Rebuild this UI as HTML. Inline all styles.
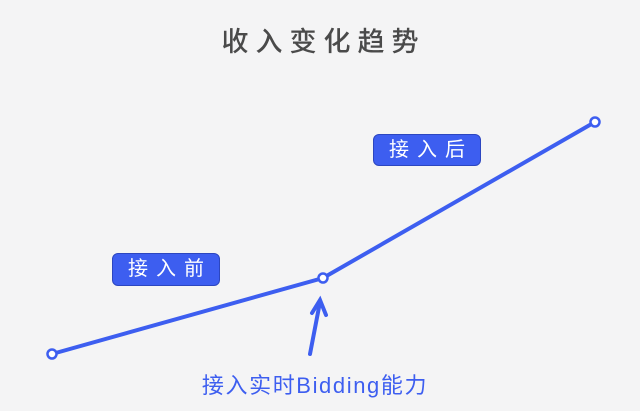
<!DOCTYPE html>
<html><head><meta charset="utf-8"><style>
html,body{margin:0;padding:0;background:#f4f4f5;}
body{width:640px;height:411px;position:relative;overflow:hidden;font-family:"Liberation Sans","Noto Sans CJK SC",sans-serif;}
.t{position:absolute;left:0;width:640px;top:20px;text-align:center;font-size:27px;color:#4a4a4a;letter-spacing:7px;padding-left:7px;box-sizing:border-box;font-weight:500;}
.b{position:absolute;background:#3d5ef0;color:#fff;font-size:20px;text-align:center;border-radius:6px;border:1px solid #2c46c0;box-sizing:border-box;letter-spacing:8px;padding-left:8px;}
.c{position:absolute;left:140px;width:350px;top:368px;text-align:center;font-size:22px;letter-spacing:1.6px;color:#3d5ef0;}
</style></head><body>
<div class="t">收入变化趋势</div>
<svg width="640" height="411" style="position:absolute;left:0;top:0">
<polyline points="52,354 323,278 595,122" fill="none" stroke="#3d5ef0" stroke-width="4"/>
<circle cx="52" cy="354" r="4.5" fill="#fff" stroke="#3d5ef0" stroke-width="2.5"/>
<circle cx="323" cy="278" r="4.5" fill="#fff" stroke="#3d5ef0" stroke-width="2.5"/>
<circle cx="595" cy="122" r="4.5" fill="#fff" stroke="#3d5ef0" stroke-width="2.5"/>
<g stroke="#3d5ef0" stroke-width="4" stroke-linecap="round" fill="none">
<line x1="310" y1="354" x2="320" y2="302"/>
<polyline points="312,313 320,300 326,315"/>
</g>
</svg>
<div class="b" style="left:112px;top:253px;width:108px;height:33px;line-height:31px">接入前</div>
<div class="b" style="left:373px;top:134px;width:108px;height:32px;line-height:30px">接入后</div>
<div class="c">接入实时Bidding能力</div>
</body></html>
